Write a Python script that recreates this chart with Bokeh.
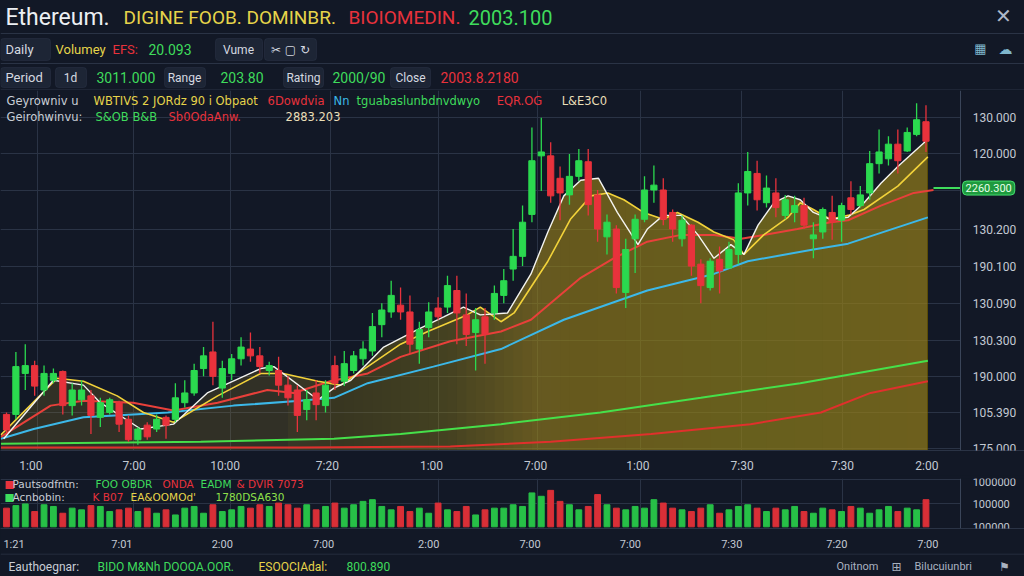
import numpy as np
from bokeh.plotting import figure
from bokeh.layouts import column
from bokeh.models import Range1d, FixedTicker, Label, BoxAnnotation, Span, ColumnDataSource
from bokeh.embed import file_html
from bokeh.resources import INLINE

# ---------------- data ----------------
opens = [2035, 2035, 2077, 2085, 2060, 2070, 2079, 2044, 2050, 2054, 2032, 2037, 2047, 2030, 2009, 2024, 2020, 2032,
         2030, 2047, 2057, 2082, 2099, 2062, 2077, 2092, 2102, 2095, 2080, 2080, 2065, 2060, 2040, 2057, 2044, 2085,
         2069, 2080, 2092, 2100, 2127, 2140, 2147, 2140, 2102, 2124, 2144, 2145, 2162, 2137, 2119, 2135, 2139, 2157,
         2184, 2197, 2240, 2300, 2300, 2277, 2260, 2279, 2294, 2260, 2217, 2225, 2160, 2215, 2235, 2265, 2265, 2242,
         2215, 2229, 2189, 2165, 2194, 2185, 2199, 2262, 2282, 2252, 2262, 2239, 2242, 2249, 2215, 2222, 2242, 2234,
         2257, 2249, 2262, 2292, 2297, 2312, 2305, 2322, 2335]
highs = [2037, 2099, 2107, 2090, 2085, 2082, 2080, 2067, 2070, 2060, 2052, 2052, 2049, 2034, 2022, 2027, 2035, 2034,
         2067, 2070, 2087, 2104, 2130, 2090, 2097, 2114, 2119, 2104, 2089, 2094, 2074, 2065, 2060, 2070, 2070, 2095,
         2100, 2100, 2110, 2139, 2149, 2172, 2165, 2157, 2130, 2150, 2155, 2177, 2177, 2159, 2144, 2144, 2167, 2184,
         2225, 2249, 2329, 2339, 2314, 2289, 2302, 2307, 2307, 2265, 2240, 2229, 2215, 2240, 2279, 2290, 2277, 2245,
         2239, 2230, 2194, 2195, 2207, 2212, 2272, 2304, 2295, 2280, 2277, 2260, 2259, 2257, 2232, 2247, 2259, 2252,
         2274, 2269, 2305, 2327, 2320, 2327, 2329, 2354, 2352]
lows = [2015, 2030, 2060, 2054, 2054, 2067, 2035, 2034, 2044, 2015, 2022, 2035, 2017, 2007, 2004, 2009, 2017, 2010,
        2027, 2042, 2054, 2074, 2065, 2052, 2070, 2085, 2089, 2077, 2075, 2054, 2044, 2017, 2029, 2029, 2037, 2060,
        2064, 2077, 2085, 2095, 2114, 2134, 2132, 2097, 2087, 2114, 2132, 2139, 2107, 2105, 2080, 2087, 2132, 2149,
        2172, 2187, 2232, 2264, 2252, 2234, 2250, 2274, 2239, 2212, 2199, 2159, 2144, 2180, 2232, 2252, 2229, 2212,
        2207, 2177, 2149, 2162, 2159, 2185, 2189, 2249, 2244, 2247, 2237, 2235, 2232, 2225, 2195, 2215, 2214, 2212,
        2240, 2247, 2255, 2282, 2290, 2282, 2304, 2320, 2304]
closes = [2019, 2084, 2085, 2064, 2077, 2077, 2044, 2060, 2060, 2034, 2047, 2050, 2025, 2009, 2020, 2012, 2030, 2024,
          2052, 2057, 2080, 2095, 2074, 2082, 2092, 2104, 2095, 2084, 2085, 2065, 2052, 2034, 2050, 2045, 2065, 2067,
          2087, 2095, 2102, 2125, 2142, 2157, 2140, 2107, 2122, 2140, 2135, 2167, 2139, 2117, 2132, 2117, 2159, 2172,
          2197, 2232, 2295, 2304, 2259, 2262, 2279, 2295, 2250, 2225, 2232, 2165, 2204, 2235, 2265, 2270, 2235, 2225,
          2234, 2187, 2167, 2192, 2182, 2204, 2262, 2284, 2255, 2267, 2247, 2255, 2249, 2229, 2219, 2245, 2232, 2249,
          2245, 2260, 2292, 2304, 2312, 2295, 2324, 2337, 2315]
volumes = [22, 25, 27, 18, 26, 24, 16, 22, 20, 25, 24, 18, 20, 22,
           18, 22, 16, 20, 14, 22, 24, 16, 26, 18, 20, 24, 22, 26,
           24, 28, 26, 22, 26, 20, 24, 28, 22, 26, 30, 32, 24,
           20, 24, 18, 22, 16, 28, 20, 18, 24, 14, 20, 22,
           22, 26, 24, 40, 36, 43, 30, 26, 20, 24, 38, 26, 22,
           20, 24, 22, 32, 28, 22, 20, 18, 22, 26, 16, 20, 24, 26, 22,
           18, 22, 20, 24, 18, 16, 22, 20, 18, 24, 22, 16, 20, 24, 18, 22, 20, 32]
volumes = [v * 1000 for v in volumes]

ma_white_x = [-0.3, 5.0, 8.2, 10.0, 14.3, 17.8, 21.4, 27.1, 28.5, 33.2, 34.9, 36.7, 40.2, 43.8, 46.6, 48.7, 50.5, 53.4,
              55.9, 57.7, 59.4, 61.2, 63.1, 65.1, 67.3, 68.3, 70.0, 71.9, 73.7, 75.4, 77.2, 78.6, 80.1, 81.8, 83.3, 84.6,
              86.0, 87.8, 89.7, 91.4, 93.2, 95.0, 96.7, 98.2]
ma_white_y = [2010, 2070, 2065, 2047, 2020, 2025, 2057, 2082, 2084, 2050, 2062, 2070, 2104, 2122, 2135, 2145, 2137, 2139,
              2179, 2222, 2259, 2275, 2277, 2242, 2209, 2225, 2239, 2239, 2219, 2195, 2209, 2199, 2229, 2252, 2259, 2255,
              2242, 2235, 2237, 2252, 2272, 2289, 2304, 2317]
ma_yellow_x = [-0.6, 5.4, 8.2, 11.8, 14.6, 17.8, 22.5, 27.1, 29.5, 33.2, 35.6, 38.5, 42.0, 44.9, 49.1, 50.5, 52.7, 54.1,
               57.7, 60.1, 62.3, 64.1, 65.8, 67.9, 70.0, 71.5, 73.7, 75.4, 77.5, 78.6, 80.7, 83.3, 84.6, 86.0, 87.8, 89.7,
               91.4, 95.0, 98.2]
ma_yellow_y = [2014, 2072, 2069, 2054, 2037, 2027, 2054, 2077, 2077, 2069, 2065, 2084, 2107, 2120, 2137, 2145, 2130, 2139,
               2192, 2235, 2259, 2262, 2255, 2242, 2235, 2242, 2232, 2222, 2214, 2199, 2219, 2237, 2252, 2245, 2235, 2239,
               2245, 2269, 2299]
ma_red_x = [-0.6, 4.7, 8.2, 13.5, 17.8, 22.5, 27.8, 30.6, 34.5, 38.5, 42.0, 47.3, 52.7, 55.9, 61.2, 64.7, 68.3, 71.9,
            75.4, 78.3, 80.7, 84.3, 87.8, 89.7, 93.2, 96.7, 98.8]
ma_red_y = [2012, 2044, 2049, 2047, 2039, 2047, 2060, 2057, 2069, 2077, 2094, 2110, 2120, 2132, 2175, 2195, 2212, 2219,
            2219, 2215, 2219, 2225, 2232, 2234, 2249, 2262, 2265]
ma_blue_x = [-0.6, 2.9, 8.2, 13.5, 17.2, 24.2, 31.3, 34.9, 38.5, 45.5, 52.7, 59.4, 68.3, 75.4, 79.0, 86.0, 89.7, 98.2]
ma_blue_y = [2010, 2020, 2032, 2035, 2037, 2044, 2049, 2052, 2067, 2084, 2102, 2132, 2162, 2179, 2192, 2204, 2210, 2237]
ma_long_green_x = [-0.6, 20.7, 34.9, 42.0, 52.7, 63.3, 74.0, 84.6, 98.2]
ma_long_green_y = [2005, 2007, 2010, 2015, 2025, 2037, 2052, 2067, 2090]
ma_long_red_x = [-0.6, 31.3, 47.3, 58.0, 68.7, 79.3, 86.8, 92.1, 98.2]
ma_long_red_y = [2001, 2001, 2002, 2007, 2015, 2025, 2037, 2057, 2069]

last_price = 2267
last_price_label = "2260.300"

price_ticks = [2000, 2037, 2074, 2111, 2149, 2187, 2225, 2302, 2339]
price_tick_labels = ["175.000", "105.390", "190.000", "130.300", "130.090", "190.100", "130.200", "120.000", "130.000"]
price_grid = [2000, 2037, 2074, 2111, 2149, 2187, 2225, 2264, 2302, 2339]
time_ticks = [2.6, 13.6, 23.3, 34.2, 45.3, 56.4, 67.3, 78.4, 89.1, 98.1]
time_labels = ["1:00", "7:00", "10:00", "7:20", "1:00", "7:00", "1:00", "7:30", "7:30", "2:00"]
grid_x = [3.3, 13.5, 23.9, 34.5, 46.0, 56.6, 67.6, 78.3, 89.1]
vol_time_ticks = [0.8, 12.3, 23.0, 33.8, 45.0, 55.8, 66.5, 77.3, 88.5, 98.2]
vol_time_labels = ["1:21", "7:01", "2:00", "7:00", "2:00", "7:00", "7:00", "7:30", "7:20", "7:00"]
vol_ticks = [0, 27000, 53000]
vol_tick_labels = ["100000", "100000", "1000000"]

# ---------------- style ----------------
BG = "#121826"
CELL = "#1d2535"
CELL_LINE = "#384359"
GRID = "#2a3345"
TXT = "#d5d9e0"
AXIS_TXT = "#c3c9d3"
UP = "#2bd94f"
DOWN = "#e8323c"
YEL = "#e6d44a"
GRN = "#3fdc5c"
FONT = "Roboto"
LFONT = "DejaVu Sans"
W = 1024
AXIS_AT = 101.7        # index position of the price axis line
X_END = 108.5          # right edge of the canvas in index units


def base_fig(w, h, xr, yr, **kw):
    f = figure(width=w, height=h, x_range=xr, y_range=yr, output_backend="svg", toolbar_location=None,
               background_fill_color=BG, border_fill_color=BG, min_border_left=0, min_border_right=0,
               min_border_top=0, min_border_bottom=0, **kw)
    return f


def txt(f, x, y, s, color, size="13px", font=FONT, align="left", **kw):
    f.add_layout(Label(x=x, y=y, text=s, text_color=color, text_font_size=size, text_font=font,
                       text_baseline="middle", text_align=align, **kw))


def style_axes(f, size):
    for ax in (f.xaxis, f.yaxis):
        ax.axis_line_color = GRID
        ax.major_tick_line_color = None
        ax.minor_tick_line_color = None
        ax.major_label_text_color = AXIS_TXT
        ax.major_label_text_font = FONT
        ax.major_label_text_font_size = size
    f.yaxis.fixed_location = AXIS_AT
    f.yaxis.axis_line_color = "#3a4559"
    f.yaxis.major_label_standoff = 6
    # keep the price-scale strip free of grid lines
    f.add_layout(BoxAnnotation(left=AXIS_AT, fill_color=BG, fill_alpha=1, line_color=None, level="underlay"))


# ---------------- header ----------------
hdr = base_fig(W, 90, Range1d(0, 1024), Range1d(90, 0))
hdr.axis.visible = False
hdr.grid.visible = False
hdr.outline_line_color = None

txt(hdr, 5, 17, "Ethereum.", "#eceff3", "23px")
txt(hdr, 123, 17, "DIGINE FOOB. DOMINBR.", YEL, "19px")
txt(hdr, 348, 17, "BIOIOMEDIN.", DOWN, "19px")
txt(hdr, 468, 17, "2003.100", GRN, "20px")
txt(hdr, 1003, 15, "\u2715", "#aeb8c8", "20px", font=LFONT, align="center")
hdr.add_layout(Span(location=33, dimension="width", line_color=GRID, line_width=1))

for (l, r) in [(0, 50), (215, 262), (264, 316)]:
    hdr.add_layout(BoxAnnotation(left=l, right=r, top=38, bottom=60, fill_color=CELL, fill_alpha=1,
                                 line_color=CELL_LINE, border_radius=3))
txt(hdr, 5, 49, "Daily", TXT)
txt(hdr, 55, 49, "Volumey", YEL)
txt(hdr, 112, 49, "EFS:", DOWN)
txt(hdr, 148, 49, "20.093", GRN, "14px")
txt(hdr, 238, 49, "Vume", TXT, "12px", align="center")
txt(hdr, 290, 49, "\u2702 \u25a2 \u21bb", TXT, "12px", font=LFONT, align="center")
txt(hdr, 980, 48, "\u25a6", "#7fb6cc", "13px", font=LFONT, align="center")
txt(hdr, 1005, 48, "\u2601", "#7fb6cc", "14px", font=LFONT, align="center")
hdr.add_layout(Span(location=63, dimension="width", line_color=GRID, line_width=1))

for (l, r) in [(0, 50), (55, 86), (164, 205), (283, 323), (390, 430)]:
    hdr.add_layout(BoxAnnotation(left=l, right=r, top=67, bottom=87, fill_color=CELL, fill_alpha=1,
                                 line_color=CELL_LINE, border_radius=3))
txt(hdr, 5, 77, "Period", TXT)
txt(hdr, 70, 77, "1d", TXT, "12px", align="center")
txt(hdr, 96, 77, "3011.000", GRN, "14px")
txt(hdr, 184, 77, "Range", TXT, "12px", align="center")
txt(hdr, 220, 77, "203.80", GRN, "14px")
txt(hdr, 303, 77, "Rating", TXT, "12px", align="center")
txt(hdr, 332, 77, "2000/90", GRN, "14px")
txt(hdr, 410, 77, "Close", TXT, "12px", align="center")
txt(hdr, 440, 77, "2003.8.2180", DOWN, "14px")
hdr.add_layout(Span(location=89.5, dimension="width", line_color=GRID, line_width=1))

# ---------------- main chart ----------------
xr = Range1d(-0.64, X_END)
main = base_fig(W, 385, xr, Range1d(1998, 2367), y_axis_location="right")
main.outline_line_color = None

main.ygrid.ticker = FixedTicker(ticks=price_grid)
main.xgrid.ticker = FixedTicker(ticks=grid_x)
main.grid.grid_line_color = GRID
main.grid.grid_line_width = 1

# golden area under the fast averages; it grows stronger towards the right
xf = np.linspace(-0.6, 98.2, 481)
fill_top = np.maximum(np.interp(xf, ma_white_x, ma_white_y), np.interp(xf, ma_yellow_x, ma_yellow_y))
alpha_x = [-0.6, 35, 47, 56, 98.2]
alpha_v = [0.20, 0.26, 0.42, 0.62, 0.72]
FILL = "#ad9128"
main.varea(x=xf, y1=np.full_like(xf, 1998.0), y2=fill_top, fill_color=FILL, fill_alpha=alpha_v[0])
prev = alpha_v[0]
for s in list(np.arange(30, 60, 1.0)) + list(np.arange(60, 98, 3.0)):
    target = float(np.interp(s, alpha_x, alpha_v))
    a = 1 - (1 - target) / (1 - prev)
    prev = target
    xs = np.concatenate([[s], xf[xf > s]])
    ys = np.interp(xs, xf, fill_top)
    main.varea(x=xs, y1=np.full_like(xs, 1998.0), y2=ys, fill_color=FILL, fill_alpha=a)

main.line(ma_long_red_x, ma_long_red_y, line_color="#e0302c", line_width=2)
main.line(ma_long_green_x, ma_long_green_y, line_color="#46e04a", line_width=2)
main.line(ma_blue_x, ma_blue_y, line_color="#3cb8e8", line_width=2)
main.line(ma_red_x, ma_red_y, line_color="#e8403a", line_width=2)
main.line([ma_red_x[-1], AXIS_AT], [last_price, last_price], line_color="#3fdc5c", line_width=2)
main.line(ma_yellow_x, ma_yellow_y, line_color="#f2d23a", line_width=1.6)
main.line(ma_white_x, ma_white_y, line_color="#f4f4f0", line_width=1.4)

o = np.array(opens, dtype=float)
c = np.array(closes, dtype=float)
up = c >= o
btop = np.maximum(o, c)
bbot = np.minimum(o, c)
bbot = np.where(btop - bbot < 2.5, btop - 2.5, bbot)
src = ColumnDataSource(dict(x=np.arange(len(opens)), h=highs, l=lows, top=btop, bot=bbot,
                            color=np.where(up, UP, DOWN)))
main.segment(x0="x", y0="h", x1="x", y1="l", line_color="color", line_width=1.3, source=src)
main.vbar(x="x", width=0.66, top="top", bottom="bot", fill_color="color", line_color="color", source=src)

main.yaxis.ticker = FixedTicker(ticks=price_ticks)
main.yaxis.major_label_overrides = dict(zip(price_ticks, price_tick_labels))
main.xaxis.ticker = FixedTicker(ticks=time_ticks)
main.xaxis.major_label_overrides = dict(zip(time_ticks, time_labels))
style_axes(main, "12px")
main.xaxis.major_label_standoff = 2

# last-price tag on the price axis
main.add_layout(Label(x=AXIS_AT + 0.2, y=last_price, text=last_price_label,
                      text_color="#e6ffe9", text_font_size="11px", text_font=FONT, text_baseline="middle",
                      background_fill_color="#1e9a3e", background_fill_alpha=1, border_line_color="#46e070",
                      border_radius=4, padding=3))


def lx(xref):
    return (xref - 6) / 9.38


def ly(yref):
    return 2457 - yref


for (xs, s, col) in [(6, "Geyrowniv u", "#c9ced6"), (93, "WBTIVS 2 JORdz 90 i Obpaot", YEL),
                     (267, "6Dowdvia", DOWN), (333, "Nn", "#3cb8e8"), (356, "tguabaslunbdnvdwyo", GRN),
                     (496, "EQR.OG", DOWN), (561, "L&E3C0", "#eadfb8")]:
    txt(main, lx(xs), ly(101), s, col, "11.5px", font=LFONT)
for (xs, s, col) in [(6, "Geirohwinvu:", "#c9ced6"), (95, "S&OB B&B", GRN),
                     (168, "Sb0OdaAnw.", DOWN), (285, "2883.203", "#eadfb8")]:
    txt(main, lx(xs), ly(117), s, col, "11.5px", font=LFONT)

# ---------------- volume ----------------
vol = base_fig(W, 78, xr, Range1d(-2000, 57000), y_axis_location="right")
vol.min_border_top = 3
vol.outline_line_color = None
vol.ygrid.ticker = FixedTicker(ticks=[27000, 55500])
vol.xgrid.ticker = FixedTicker(ticks=grid_x)
vol.grid.grid_line_color = GRID
vsrc = ColumnDataSource(dict(x=np.arange(len(volumes)), v=volumes, color=np.where(up, "#27c047", "#d92f37")))
vol.vbar(x="x", width=0.62, top="v", bottom=0, fill_color="color", line_color="color", source=vsrc)
vol.yaxis.ticker = FixedTicker(ticks=vol_ticks)
vol.yaxis.major_label_overrides = dict(zip(vol_ticks, vol_tick_labels))
vol.xaxis.ticker = FixedTicker(ticks=vol_time_ticks)
vol.xaxis.major_label_overrides = dict(zip(vol_time_ticks, vol_time_labels))
style_axes(vol, "11px")
vol.xaxis.major_label_standoff = 3


def vy(yref):
    return (535 - yref) * 1000


for (xs, s, col) in [(4, "\u25a0", DOWN), (12, "Pautsodfntn:", "#c9ced6"), (95, "FOO OBDR", GRN),
                     (162, "ONDA", DOWN), (200, "EADM", GRN), (236, "& DVIR 7073", DOWN)]:
    txt(vol, lx(xs), vy(485), s, col, "10.5px", font=LFONT)
for (xs, s, col) in [(4, "\u25a0", GRN), (12, "Acnbobin:", "#c9ced6"), (92, "K B07", DOWN),
                     (130, "EA&OOMOd'", YEL), (215, "1780DSA630", "#8fe04a")]:
    txt(vol, lx(xs), vy(500), s, col, "10.5px", font=LFONT)

# ---------------- footer ----------------
ftr = base_fig(W, 23, Range1d(0, 1024), Range1d(576, 553))
ftr.axis.visible = False
ftr.grid.visible = False
ftr.outline_line_color = None
ftr.add_layout(Span(location=553.5, dimension="width", line_color=GRID, line_width=1))
txt(ftr, 8, 566, "Eauthoegnar:", "#c9ced6", "12px")
txt(ftr, 97, 566, "BIDO M&Nh DOOOA.OOR.", GRN, "12px")
txt(ftr, 258, 566, "ESOOCIAdal:", YEL, "12px")
txt(ftr, 346, 566, "800.890", GRN, "12px")
txt(ftr, 836, 566, "Onitnom", "#a9b2c0", "11px")
txt(ftr, 896, 566, "\u229e", "#a9b2c0", "12px", font=LFONT, align="center")
txt(ftr, 914, 566, "Bilucuiunbri", "#a9b2c0", "11px")
txt(ftr, 1004, 566, "\u2691", "#a9b2c0", "12px", font=LFONT, align="center")

page = column(hdr, main, vol, ftr, spacing=0, styles={"background-color": BG})
html = file_html(page, INLINE, title="Ethereum chart")
html = html.replace("<body>", '<body style="background-color:%s">' % BG, 1)
open("out.html", "w").write(html)
